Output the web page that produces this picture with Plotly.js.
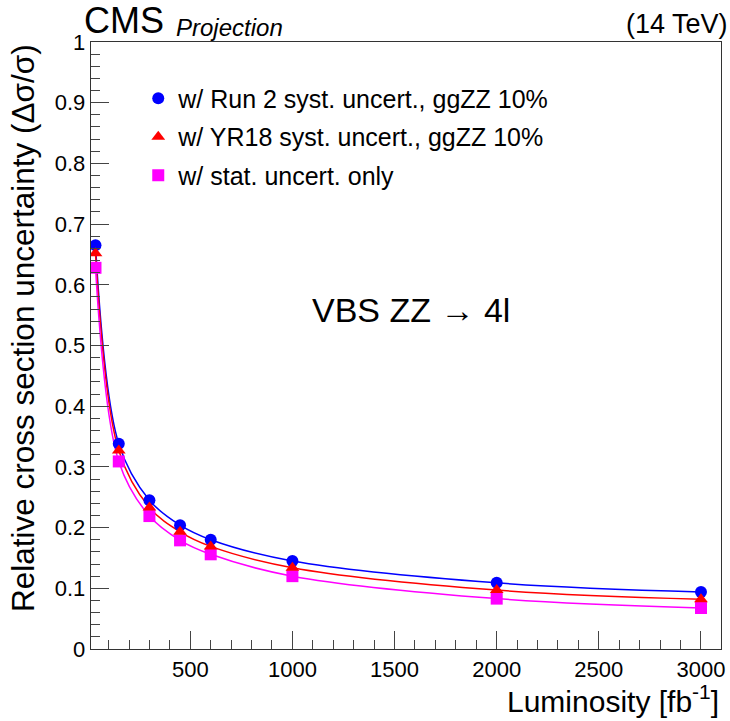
<!DOCTYPE html>
<html>
<head>
<meta charset="utf-8">
<script src="https://cdn.plot.ly/plotly-3.0.1.min.js"></script>
<style>
  html, body { margin: 0; padding: 0; background: #fff; }
  #chart { width: 730px; height: 721px; }
</style>
</head>
<body>
<div id="chart"></div>
<script>
// Integrated luminosity scenarios [fb^-1]
const lumi = [36, 150, 300, 450, 600, 1000, 2000, 3000];

// Relative cross section uncertainty for each systematics scenario
const run2Syst = [0.665, 0.338, 0.245, 0.204, 0.180, 0.145, 0.109, 0.094];
const yr18Syst = [0.652, 0.327, 0.233, 0.193, 0.169, 0.134, 0.097, 0.082];
const statOnly = [0.628, 0.309, 0.219, 0.179, 0.156, 0.120, 0.083, 0.0675];

const seriesNames = [
  'w/ Run 2 syst. uncert., ggZZ 10%',
  'w/ YR18 syst. uncert., ggZZ 10%',
  'w/ stat. uncert. only'
];

const FONT = 'Liberation Sans, Arial, Helvetica, sans-serif';
const BLUE = '#0000ff', RED = '#ff0000', MAGENTA = '#ff00ff';

function curve(y, color) {
  return {
    x: lumi, y: y, type: 'scatter', mode: 'lines',
    line: { color: color, width: 1.5, shape: 'spline', smoothing: 1 },
    hoverinfo: 'skip', showlegend: false
  };
}
function points(y, color, symbol, name, rank) {
  return {
    x: lumi, y: y, type: 'scatter', mode: 'markers', name: name,
    legendgroup: 'g' + rank, legendrank: rank,
    marker: { color: color, symbol: symbol, size: 12, line: { width: 0 } }
  };
}

const data = [
  curve(run2Syst, BLUE),
  curve(yr18Syst, RED),
  curve(statOnly, MAGENTA),
  points(statOnly, MAGENTA, 'square', seriesNames[2], 3),
  points(run2Syst, BLUE, 'circle', seriesNames[0], 1),
  points(yr18Syst, RED, 'triangle-up', seriesNames[1], 2)
];

const axisCommon = {
  showgrid: false, zeroline: false,
  showline: true, mirror: true, linecolor: '#333', linewidth: 1.3,
  ticks: 'inside', ticklen: 18, tickwidth: 1, tickcolor: '#444',
  tickfont: { family: FONT, size: 22, color: '#000' }
};

const layout = {
  width: 730, height: 721,
  margin: { l: 91, r: 9, t: 42, b: 72, pad: 0 },
  paper_bgcolor: '#fff', plot_bgcolor: '#fff',
  xaxis: Object.assign({}, axisCommon, {
    range: [14, 3098], tick0: 0, dtick: 500,
    minor: { dtick: 100, ticks: 'inside', ticklen: 9, tickcolor: '#444', tickwidth: 1 }
  }),
  yaxis: Object.assign({}, axisCommon, {
    range: [0, 1], tick0: 0, dtick: 0.1,
    minor: { dtick: 0.02, ticks: 'inside', ticklen: 9, tickcolor: '#444', tickwidth: 1 }
  }),
  showlegend: true,
  legend: {
    x: 0.075, y: 0.945, xanchor: 'left', yanchor: 'top',
    bgcolor: 'rgba(0,0,0,0)', borderwidth: 0,
    font: { family: FONT, size: 25, color: '#000' },
    tracegroupgap: 3, traceorder: 'grouped'
  },
  annotations: [
    { text: 'CMS', xref: 'paper', yref: 'paper', x: -0.012, y: 1.0,
      xanchor: 'left', yanchor: 'bottom', showarrow: false, borderpad: 0,
      font: { family: FONT, size: 36, color: '#000' } },
    { text: '<i>Projection</i>', xref: 'paper', yref: 'paper', x: 0.131, y: 1.024,
      xanchor: 'left', yanchor: 'middle', showarrow: false,
      font: { family: FONT, size: 24, color: '#000' } },
    { text: '(14 TeV)', xref: 'paper', yref: 'paper', x: 1.014, y: 1.029,
      xanchor: 'right', yanchor: 'middle', showarrow: false,
      font: { family: FONT, size: 27, color: '#000' } },
    { text: 'VBS ZZ \u2192 4l', xref: 'paper', yref: 'paper', x: 0.5087, y: 0.5585,
      xanchor: 'center', yanchor: 'middle', showarrow: false,
      font: { family: FONT, size: 34, color: '#000' } },
    { text: 'Luminosity [fb<sup>-1</sup>]', xref: 'paper', yref: 'paper', x: 1.0, y: -0.082,
      xanchor: 'right', yanchor: 'middle', showarrow: false,
      font: { family: FONT, size: 30, color: '#000' } },
    { text: 'Relative cross section uncertainty (\u0394\u03c3/\u03c3)', xref: 'paper', yref: 'paper',
      x: -0.108, y: 1.0, xanchor: 'center', yanchor: 'top', textangle: -90, showarrow: false,
      font: { family: FONT, size: 31.5, color: '#000' } }
  ]
};

Plotly.newPlot('chart', data, layout, { displayModeBar: false, staticPlot: true });
</script>
</body>
</html>
